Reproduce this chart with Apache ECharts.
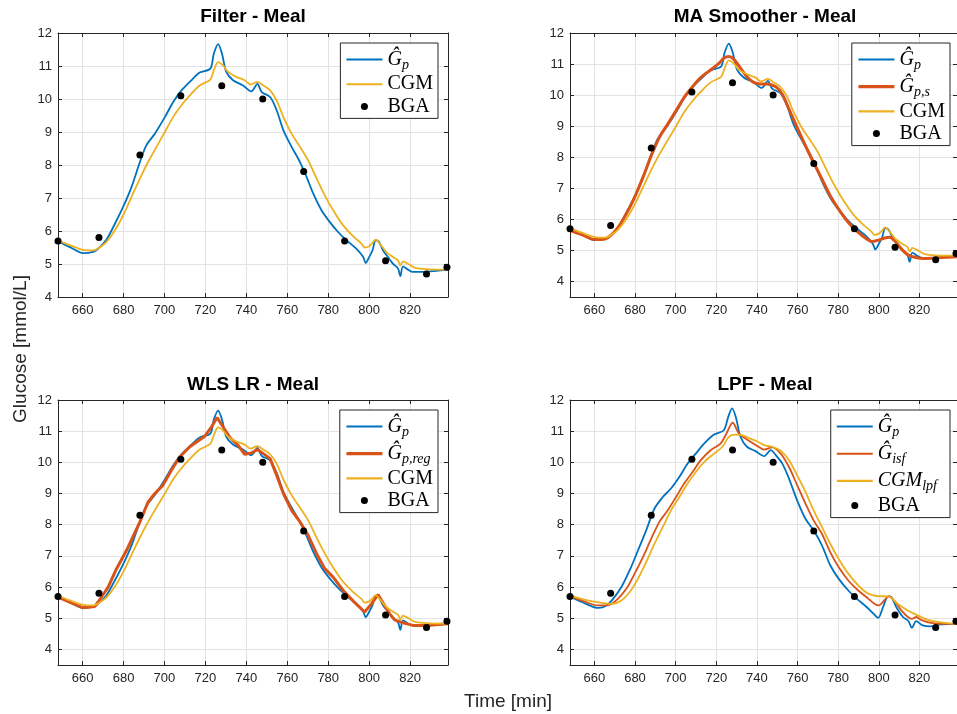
<!DOCTYPE html>
<html>
<head>
<meta charset="utf-8">
<script src="https://cdn.jsdelivr.net/npm/echarts@6.0.0/dist/echarts.min.js"></script>
<style>
html, body { margin: 0; padding: 0; background: #fff; }
#main { width: 957px; height: 714px; }
</style>
</head>
<body>
<div id="main"></div>
<script>
// estimated Gp (filter output), same curve in the first three panels
var gpT = [648, 653.8, 660.3, 665.2, 667.6, 671.7, 675.8, 679.8, 683.9, 688, 691.2, 695.3, 700.2, 704.2, 708.3, 712.4, 717.2, 722.4, 724.1, 726.2, 728.1, 730.2, 733.5, 738.4, 742.4, 745.4, 747.5, 751.6, 754.8, 758.1, 762.1, 766.2, 769.4, 772.7, 776.7, 780.8, 784.8, 788.9, 793.8, 797.1, 798.3, 800, 801.6, 803.2, 804.8, 806.8, 809.2, 811.6, 814.1, 815.2, 816.5, 818.9, 821.4, 826.2, 832.7, 838.5];
var gpV = [5.68, 5.51, 5.33, 5.37, 5.46, 5.74, 6.22, 6.73, 7.33, 8.09, 8.6, 8.95, 9.45, 9.9, 10.26, 10.52, 10.8, 10.92, 11.37, 11.66, 11.37, 10.82, 10.57, 10.41, 10.23, 10.46, 10.21, 10.06, 9.66, 9.05, 8.55, 8.09, 7.64, 7.13, 6.63, 6.27, 5.97, 5.72, 5.46, 5.21, 5.03, 5.21, 5.41, 5.72, 5.67, 5.41, 5.21, 5.01, 4.86, 4.63, 4.93, 4.83, 4.76, 4.76, 4.79, 4.83];

// CGM
var cgmT = [648, 653.8, 660.3, 665.2, 668.5, 671.7, 675.8, 679.8, 683.9, 688, 692, 696.1, 700.2, 704.2, 708.3, 712.4, 717.2, 722.4, 724.1, 726.2, 728.6, 731.1, 735.1, 739.2, 742, 745.4, 748.3, 751.6, 754.8, 758.1, 762.1, 766.2, 770.2, 774.3, 778.3, 782.4, 787.3, 792.2, 796.2, 797.8, 800, 801.6, 803.2, 805.1, 808.4, 811.6, 814.1, 815.2, 816.5, 818.9, 822.2, 826.2, 832.7, 838.5];
var cgmV = [5.72, 5.57, 5.43, 5.41, 5.51, 5.67, 6.02, 6.47, 7.03, 7.59, 8.09, 8.55, 9.0, 9.45, 9.81, 10.11, 10.41, 10.59, 10.87, 11.12, 11.02, 10.82, 10.67, 10.57, 10.44, 10.52, 10.41, 10.26, 9.96, 9.45, 8.95, 8.55, 8.14, 7.59, 7.08, 6.63, 6.17, 5.84, 5.62, 5.5, 5.54, 5.64, 5.74, 5.62, 5.36, 5.21, 5.11, 4.96, 5.08, 5.01, 4.89, 4.85, 4.83, 4.83];

// MA smoother
var gpsT = [648, 653.8, 660.3, 665.2, 668.5, 671.7, 675.8, 679.8, 683.9, 688, 692, 696.1, 700.2, 704.2, 708.3, 712.4, 717.2, 721.3, 723.7, 726.2, 728.6, 731.9, 735.1, 738.4, 741.6, 744.9, 749.3, 752.5, 755.8, 759.8, 763.9, 767.9, 772, 776.1, 780.2, 785, 789.9, 794, 796.4, 799.7, 802.9, 805.4, 807.8, 811.1, 814.3, 817.6, 822.4, 828.9, 838.5];
var gpsV = [5.64, 5.51, 5.35, 5.37, 5.51, 5.74, 6.19, 6.71, 7.35, 8.05, 8.64, 9.07, 9.5, 9.93, 10.27, 10.57, 10.81, 11.02, 11.19, 11.24, 11.16, 10.87, 10.59, 10.41, 10.36, 10.36, 10.27, 10.03, 9.55, 8.96, 8.37, 7.83, 7.3, 6.76, 6.33, 5.9, 5.58, 5.37, 5.29, 5.33, 5.4, 5.42, 5.31, 5.05, 4.86, 4.78, 4.74, 4.76, 4.8];

// WLS linear regression
var gpregT = [648, 660, 666, 667.6, 672.5, 676.6, 681.5, 688, 692, 695.3, 699.3, 703.4, 707.5, 712.4, 719.7, 723, 725.7, 728.6, 731.9, 735.9, 739.2, 742.4, 745.4, 748.3, 751.6, 754.8, 758.1, 762.1, 766.2, 770.2, 774.3, 778.3, 782.4, 787.3, 792.2, 797.8, 801.1, 804.3, 806.8, 810, 812.4, 816.5, 821.4, 827.9, 838.5];
var gpregV = [5.68, 5.34, 5.38, 5.52, 6.0, 6.59, 7.18, 8.09, 8.73, 9.0, 9.27, 9.75, 10.18, 10.5, 10.84, 11.14, 11.44, 11.14, 10.8, 10.55, 10.26, 10.3, 10.41, 10.28, 10.12, 9.59, 9.0, 8.46, 8.09, 7.66, 7.07, 6.59, 6.32, 5.89, 5.55, 5.2, 5.46, 5.76, 5.49, 5.14, 4.95, 4.85, 4.77, 4.77, 4.82];

// LPF panel
var gplT = [648, 653.8, 662, 666, 669.3, 673.3, 677.4, 681.5, 685.5, 689.6, 693.7, 697.7, 701.8, 705.9, 709.9, 714, 718.9, 723.7, 725.9, 727.8, 729.8, 731.9, 735.1, 739.3, 743.6, 746.8, 749.3, 752.5, 755.8, 759.8, 763.9, 767.9, 772, 776.1, 780.2, 785, 789.1, 794, 797.2, 799.7, 802.1, 804.6, 806.2, 808.6, 811.9, 814.6, 816.3, 818.4, 821.6, 825.7, 830.6, 838.5];
var gplV = [5.7, 5.52, 5.33, 5.41, 5.63, 6.0, 6.54, 7.18, 7.82, 8.52, 8.89, 9.16, 9.53, 9.96, 10.28, 10.6, 10.89, 11.03, 11.46, 11.73, 11.41, 10.82, 10.5, 10.36, 10.2, 10.39, 10.23, 9.96, 9.48, 8.78, 8.19, 7.82, 7.34, 6.7, 6.27, 5.89, 5.63, 5.36, 5.16, 5.01, 5.36, 5.7, 5.68, 5.36, 5.04, 4.91, 4.69, 4.91, 4.77, 4.74, 4.8, 4.82];
var gisfT = [648, 653.8, 662, 667.6, 671.7, 675.8, 679.8, 683.9, 688, 692, 696.1, 700.2, 704.2, 708.3, 712.4, 717.2, 722.1, 724.6, 728.1, 731.1, 735.1, 739.8, 743.6, 747.6, 751.7, 755.8, 759.8, 763.9, 767.9, 772, 776.1, 780.2, 785, 789.9, 794.8, 798, 800, 802.9, 804.9, 807.8, 811.1, 814.3, 816.3, 818.4, 820.8, 825.7, 832.2, 838.5];
var gisfV = [5.7, 5.57, 5.41, 5.44, 5.63, 5.95, 6.43, 6.96, 7.55, 8.09, 8.46, 8.89, 9.32, 9.69, 10.07, 10.39, 10.6, 10.87, 11.27, 10.93, 10.73, 10.54, 10.41, 10.48, 10.28, 9.85, 9.27, 8.68, 8.14, 7.71, 7.12, 6.64, 6.21, 5.89, 5.63, 5.46, 5.41, 5.59, 5.71, 5.55, 5.25, 5.04, 4.98, 5.04, 4.95, 4.85, 4.82, 4.82];
var cgmlT = [648, 655.4, 663.6, 668.5, 673.3, 677.4, 681.5, 685.5, 689.6, 693.7, 697.7, 701.8, 705.9, 709.9, 714, 718.9, 723, 726.2, 729.4, 732.7, 736.7, 740.2, 743.6, 747.6, 751.7, 755.8, 759.8, 763.9, 767.9, 772, 776.1, 780.2, 785, 789.9, 794.8, 799.7, 804.6, 809.4, 814.3, 819.2, 824.1, 830.6, 838.5];
var cgmlV = [5.73, 5.59, 5.49, 5.46, 5.57, 5.84, 6.27, 6.8, 7.39, 7.93, 8.46, 8.89, 9.32, 9.69, 10.01, 10.28, 10.5, 10.82, 10.89, 10.87, 10.76, 10.67, 10.55, 10.5, 10.37, 10.07, 9.59, 9.05, 8.46, 7.93, 7.39, 6.91, 6.43, 6.05, 5.79, 5.71, 5.7, 5.46, 5.25, 5.09, 4.95, 4.87, 4.82];

// blood gas analyser samples
var bgaT = [648, 668, 688, 708, 728, 748, 768, 788, 808, 828, 838];
var bgaV = [5.7, 5.8, 8.3, 10.1, 10.4, 10.0, 7.8, 5.7, 5.1, 4.7, 4.9];

var titles = ['Filter - Meal', 'MA Smoother - Meal', 'WLS LR - Meal', 'LPF - Meal'];
var yMins = [4, 3.5, 3.5, 3.5];

var blue = '#0072BD', red = '#D95319', yellow = '#EDB120';

function pairs(t, v) {
    var out = [];
    for (var i = 0; i < t.length; i++) out.push([t[i], v[i]]);
    return out;
}

var labels = {
    gp: '{m|Ĝ}{s|p}',
    gps: '{m|Ĝ}{s|p,s}',
    gpreg: '{m|Ĝ}{s|p,reg}',
    gisf: '{m|Ĝ}{s|isf}',
    cgm: '{r|CGM}',
    cgml: '{m|CGM}{sw|lpf}',
    bga: '{r|BGA}'
};
var serif = 'Liberation Serif';
var rich = {
    m: { fontFamily: serif, fontStyle: 'italic', fontSize: 20, color: '#000', lineHeight: 22 },
    r: { fontFamily: serif, fontSize: 20, color: '#000', lineHeight: 22 },
    s: { fontFamily: serif, fontStyle: 'italic', fontSize: 14, color: '#000', lineHeight: 22, padding: [11, 0, 0, 0] },
    sw: { fontFamily: serif, fontStyle: 'italic', fontSize: 14, color: '#000', lineHeight: 22, padding: [11, 8, 0, 0] }
};

// which curves go in which panel
var panels = [
    [['gp', pairs(gpT, gpV), blue, 1.8, 0.3], ['cgm', pairs(cgmT, cgmV), yellow, 1.8, 0.3]],
    [['gp', pairs(gpT, gpV), blue, 1.8, 0.3], ['gps', pairs(gpsT, gpsV), red, 3, 0.3], ['cgm', pairs(cgmT, cgmV), yellow, 1.8, 0.3]],
    [['gp', pairs(gpT, gpV), blue, 1.8, 0.3], ['gpreg', pairs(gpregT, gpregV), red, 3, 0], ['cgm', pairs(cgmT, cgmV), yellow, 1.8, 0.3]],
    [['gp', pairs(gplT, gplV), blue, 1.8, 0.3], ['gisf', pairs(gisfT, gisfV), red, 1.8, 0.3], ['cgml', pairs(cgmlT, cgmlV), yellow, 1.8, 0.3]]
];

var grids = [
    { left: 58, top: 33, width: 390, height: 264 },
    { left: 570, top: 33, width: 390, height: 264 },
    { left: 58, top: 400, width: 390, height: 265 },
    { left: 570, top: 400, width: 390, height: 265 }
];
var titlePos = [[253, 7], [765, 7], [253, 375], [765, 375]];
var legendPos = [[519, 43], [7, 43], [519, 410], [7, 410]];

var dark = '#262626';
var xAxis = [], yAxis = [], series = [], legend = [], title = [];

for (var i = 0; i < 4; i++) {
    var tick = { inside: true, length: 4, lineStyle: { color: dark } };
    xAxis.push({
        type: 'value', gridIndex: i, min: 648, max: 838.5, minInterval: 20, maxInterval: 20,
        axisLine: { onZero: false, lineStyle: { color: dark } },
        axisTick: tick,
        axisLabel: { color: dark, fontSize: 13, fontFamily: 'Liberation Sans', margin: 7, showMinLabel: false, showMaxLabel: false },
        splitLine: { show: true, lineStyle: { color: '#e3e3e3' } }
    });
    xAxis.push({
        type: 'value', gridIndex: i, position: 'top', min: 648, max: 838.5, minInterval: 20, maxInterval: 20,
        axisLine: { onZero: false, lineStyle: { color: dark } },
        axisTick: tick, axisLabel: { show: false }, splitLine: { show: false }
    });
    yAxis.push({
        type: 'value', gridIndex: i, min: yMins[i], max: 12, minInterval: 1, maxInterval: 1,
        axisLine: { show: true, onZero: false, lineStyle: { color: dark } },
        axisTick: { show: true, inside: true, length: 4, lineStyle: { color: dark } },
        axisLabel: { color: dark, fontSize: 13, fontFamily: 'Liberation Sans', margin: 6, showMinLabel: yMins[i] === 4 },
        splitLine: { show: true, lineStyle: { color: '#e3e3e3' } }
    });
    yAxis.push({
        type: 'value', gridIndex: i, position: 'right', min: yMins[i], max: 12, minInterval: 1, maxInterval: 1,
        axisLine: { show: true, onZero: false, lineStyle: { color: dark } },
        axisTick: { show: true, inside: true, length: 4, lineStyle: { color: dark } },
        axisLabel: { show: false }, splitLine: { show: false }
    });

    var items = [];
    panels[i].forEach(function(c) {
        var nm = c[0] + i;
        items.push({ name: nm, itemStyle: { opacity: 0 }, lineStyle: { width: c[3] + 0.3 } });
        series.push({
            name: nm, type: 'line', xAxisIndex: 2 * i, yAxisIndex: 2 * i,
            data: c[1], symbol: 'none', smooth: c[4], animation: false,
            lineStyle: { color: c[2], width: c[3] }, itemStyle: { color: c[2] }
        });
    });
    items.push({ name: 'bga' + i });
    series.push({
        name: 'bga' + i, type: 'scatter', xAxisIndex: 2 * i, yAxisIndex: 2 * i,
        data: pairs(bgaT, bgaV), symbol: 'circle', symbolSize: 7, animation: false,
        itemStyle: { color: '#000', opacity: 1 }, z: 5
    });

    legend.push({
        orient: 'vertical', right: legendPos[i][0], top: legendPos[i][1], data: items,
        itemWidth: 36, itemHeight: 7, itemGap: 2.2, padding: [4, 5, 2, 5],
        borderColor: dark, borderWidth: 1, backgroundColor: '#fff', borderRadius: 0,
        selectedMode: false,
        formatter: function(name) { return labels[name.replace(/\d$/, '')]; },
        textStyle: { rich: rich }
    });

    title.push({
        text: titles[i], left: titlePos[i][0], top: titlePos[i][1], textAlign: 'center', padding: 0,
        textStyle: { fontFamily: 'Liberation Sans', fontWeight: 'bold', fontSize: 19, color: '#000' }
    });
}

var chart = echarts.init(document.getElementById('main'));
chart.setOption({
    animation: false,
    backgroundColor: '#fff',
    title: title,
    grid: grids,
    xAxis: xAxis,
    yAxis: yAxis,
    legend: legend,
    series: series,
    graphic: [
        { type: 'text', x: 21, y: 349, rotation: Math.PI / 2,
          style: { text: 'Glucose [mmol/L]', font: '19px "Liberation Sans"', fill: dark, align: 'center', verticalAlign: 'middle', textAlign: 'center', textVerticalAlign: 'middle' } },
        { type: 'text', x: 508, y: 702,
          style: { text: 'Time [min]', font: '19px "Liberation Sans"', fill: dark, align: 'center', verticalAlign: 'middle', textAlign: 'center', textVerticalAlign: 'middle' } }
    ]
});
</script>
</body>
</html>
